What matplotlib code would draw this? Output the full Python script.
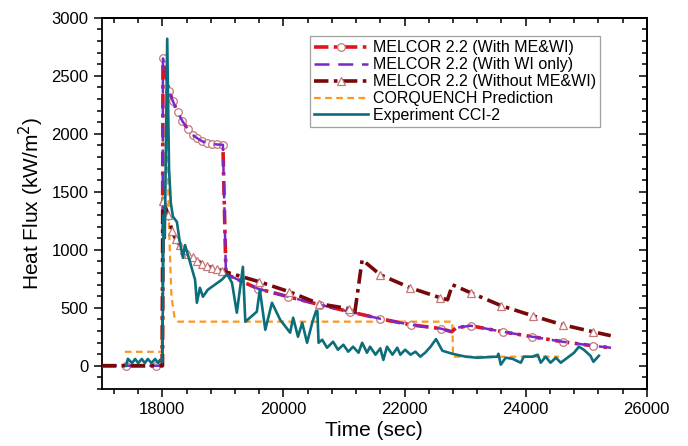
"""
    plot.py

    Heat flux vs time: MELCOR 2.2 runs, CORQUENCH and CCI-2 experiment.
"""

import matplotlib
matplotlib.use("Agg")
import matplotlib.pyplot as plt
from matplotlib.ticker import MultipleLocator

plt.rcParams['font.family'] = ['Liberation Sans', 'DejaVu Sans']

# MELCOR 2.2 (With ME&WI) -- the WI-only run lies on the same curve
mewi_t = [17000, 17400, 17900, 18000, 18010, 18110, 18175, 18250, 18330,
          18420, 18500, 18580, 18660, 18740, 18820, 18900, 19000, 19050,
          19580, 20080, 20600, 21100, 21600, 22100, 22600, 22780, 22850,
          23090, 23620, 24110, 24610, 25110, 25410]
mewi_q = [0, 0, 0, 0, 2650, 2370, 2280, 2190, 2110,
          2040, 1990, 1960, 1935, 1920, 1912, 1908, 1905, 790,
          664, 595, 526, 465, 405, 353, 320, 293, 327,
          345, 293, 250, 207, 172, 155]
mewi_marks = [1, 2] + list(range(4, 17)) + list(range(18, 25)) + list(range(27, 32))

wi_t = mewi_t
wi_q = mewi_q

# MELCOR 2.2 (Without ME&WI)
nomewi_t = [17000, 17400, 17900, 18000, 18010, 18100, 18160, 18220, 18290,
            18360, 18430, 18500, 18580, 18660, 18740, 18820, 18900, 18990,
            19070, 19600, 20095, 20590, 21090, 21180, 21300, 21600, 22095,
            22590, 22710, 22790, 23090, 23600, 24115, 24610, 25110, 25405]
nomewi_q = [0, 0, 0, 0, 1420, 1300, 1160, 1090, 1040,
            1000, 965, 935, 905, 880, 860, 845, 832, 820,
            805, 724, 638, 534, 491, 465, 914, 784, 672,
            586, 569, 698, 630, 517, 431, 353, 293, 259]
nomewi_marks = list(range(4, 18)) + [19, 20, 21, 22, 25, 26, 27] + list(range(30, 35))

# CORQUENCH Prediction
corq_t = [17380, 17990, 18010, 18080, 18110, 18150, 18200, 18260, 22790,
          22800, 24550]
corq_q = [120, 120, 1990, 1980, 1200, 600, 420, 380, 380,
          78, 78]

# Experiment CCI-2
exp_t = [17400, 17430, 17500, 17550, 17600, 17660, 17710, 17760, 17820,
         17880, 17930, 17960, 18000, 18020, 18040, 18080, 18110, 18140,
         18175, 18240, 18290, 18340, 18375, 18455, 18540, 18570, 18620,
         18670, 18750, 18980, 19070, 19150, 19230, 19330, 19370, 19560,
         19610, 19700, 19810, 19945, 20110, 20160, 20240, 20310, 20390,
         20480, 20540, 20560, 20580, 20640, 20720, 20820, 20900, 20990,
         21070, 21150, 21240, 21300, 21380, 21430, 21520, 21600, 21650,
         21710, 21800, 21880, 21930, 22010, 22100, 22180, 22260, 22340,
         22430, 22520, 22625, 22790, 23010, 23200, 23530, 23550, 23590,
         23670, 23780, 23920, 23970, 24110, 24200, 24250, 24330, 24410,
         24500, 24580, 24690, 24800, 24880, 24960, 25070, 25120, 25210]
exp_q = [0, 60, 23, 58, 23, 58, 23, 58, 23,
         58, 23, 50, 30, 1300, 1100, 2820, 1700, 1400,
         1285, 1240, 1060, 930, 1040, 897, 741, 543, 672,
         595, 655, 741, 790, 715, 457, 853, 380, 466,
         655, 310, 543, 397, 285, 414, 250, 370, 198,
         380, 474, 474, 198, 224, 155, 207, 138, 181,
         121, 164, 112, 198, 112, 164, 95, 150, 50,
         164, 95, 155, 95, 138, 95, 121, 78, 112,
         164, 230, 129, 103, 78, 69, 78, 103, 9,
         69, 60, 26, 78, 78, 95, 26, 78, 26,
         69, 26, 69, 112, 164, 138, 86, 34, 86]

fig = plt.figure(figsize=(6.88, 4.46), dpi=100)
ax = fig.add_axes([0.148, 0.128, 0.792, 0.832])

mk_edge = '#c47a7a'
ax.plot(corq_t, corq_q, color='#ff961e', lw=1.6, dashes=(3, 2),
        label='CORQUENCH Prediction', zorder=2)
ax.plot(mewi_t, mewi_q, color='#e0141c', lw=2.6, dashes=(4, 1.5, 1, 1.5),
        marker='o', ms=5.5, mfc='white', mec=mk_edge, mew=0.9,
        markevery=mewi_marks, label='MELCOR 2.2 (With ME&WI)', zorder=3)
ax.plot(wi_t, wi_q, color='#7a28c8', lw=1.8, dashes=(6, 3.5),
        label='MELCOR 2.2 (With WI only)', zorder=4)
ax.plot(nomewi_t, nomewi_q, color='#780808', lw=2.6, dashes=(4, 1.5, 1, 1.5),
        marker='^', ms=6, mfc='white', mec=mk_edge, mew=0.9,
        markevery=nomewi_marks, label='MELCOR 2.2 (Without ME&WI)', zorder=4)
ax.plot(exp_t, exp_q, color='#0c6e7c', lw=1.9,
        label='Experiment CCI-2', zorder=5)

ax.set_xlim(17000, 26000)
ax.set_ylim(-200, 3000)
ax.xaxis.set_major_locator(MultipleLocator(2000))
ax.xaxis.set_minor_locator(MultipleLocator(400))
ax.yaxis.set_major_locator(MultipleLocator(500))
ax.yaxis.set_minor_locator(MultipleLocator(100))
ax.tick_params(which='both', direction='out', labelsize=12, width=1.1)
ax.tick_params(which='major', length=6)
ax.tick_params(which='minor', length=3.5)

# mirrored inner ticks on top and right
top = ax.secondary_xaxis('top')
right = ax.secondary_yaxis('right')
top.xaxis.set_major_locator(MultipleLocator(2000))
top.xaxis.set_minor_locator(MultipleLocator(400))
right.yaxis.set_major_locator(MultipleLocator(500))
right.yaxis.set_minor_locator(MultipleLocator(100))
for sec in (top, right):
    sec.tick_params(which='both', direction='in', labeltop=False,
                    labelright=False, width=1.1)
    sec.tick_params(which='major', length=6)
    sec.tick_params(which='minor', length=3.5)

for sp in ax.spines.values():
    sp.set_linewidth(1.3)
top.spines['top'].set_linewidth(1.3)
right.spines['right'].set_linewidth(1.3)

ax.set_xlabel('Time (sec)', fontsize=15, labelpad=3)
ax.set_ylabel('Heat Flux (kW/m$^2$)', fontsize=15, labelpad=4)

handles, labels = ax.get_legend_handles_labels()
order = [1, 2, 3, 0, 4]
leg = ax.legend([handles[i] for i in order], [labels[i] for i in order],
                loc='upper right', bbox_to_anchor=(0.914, 0.95),
                borderaxespad=0, fontsize=11.5, frameon=True, fancybox=False,
                edgecolor='#888888', handlelength=3.4, borderpad=0.25,
                labelspacing=0.12, handletextpad=0.3)
leg.get_frame().set_linewidth(0.9)

fig.savefig('out.png', dpi=100)
